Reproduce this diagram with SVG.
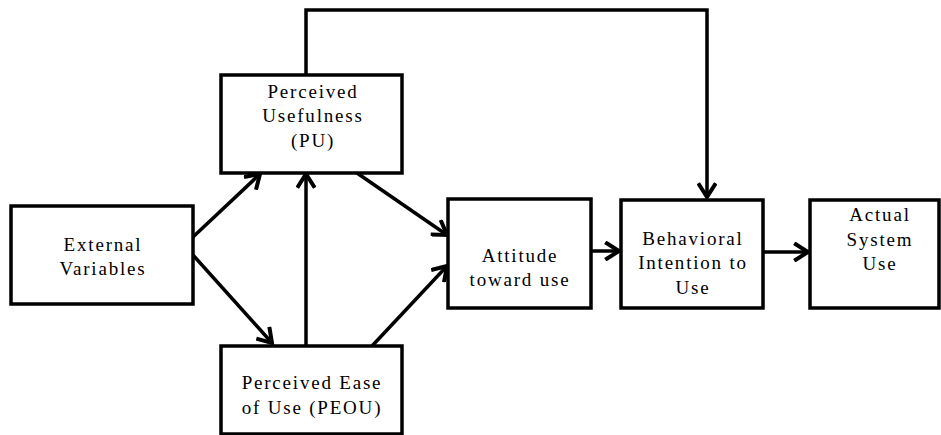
<svg xmlns="http://www.w3.org/2000/svg" width="941" height="435" viewBox="0 0 941 435">
<style>
.box{fill:#fff;stroke:#000;stroke-width:3.5}
.lbl{font-size:19px;letter-spacing:1.8px;fill:#000;text-anchor:middle}
.con{fill:none;stroke:#000;stroke-width:3.5}
</style>
<defs>
<marker id="arr" markerUnits="userSpaceOnUse" markerWidth="20" markerHeight="20" viewBox="0 0 14 16" refX="12" refY="8" orient="auto">
<path d="M1,1 L12,8 L1,15" fill="none" stroke="#000" stroke-width="3.2" stroke-linejoin="miter"/>
</marker>
</defs>
<g id="connectors">
<polyline class="con" points="306,75 306,10 707,10 707,197" marker-end="url(#arr)"/>
<line class="con" x1="193" y1="237" x2="260" y2="174" marker-end="url(#arr)"/>
<line class="con" x1="193" y1="255" x2="272" y2="343" marker-end="url(#arr)"/>
<line class="con" x1="306" y1="346" x2="306" y2="174" marker-end="url(#arr)"/>
<line class="con" x1="357" y1="173" x2="447" y2="235" marker-end="url(#arr)"/>
<line class="con" x1="372" y1="346" x2="447" y2="266" marker-end="url(#arr)"/>
<line class="con" x1="591" y1="251" x2="619" y2="251" marker-end="url(#arr)"/>
<line class="con" x1="763" y1="252" x2="808" y2="252" marker-end="url(#arr)"/>
</g>
<g font-family="'Liberation Serif', 'DejaVu Serif', 'Times New Roman', serif">
<g id="external">
<rect class="box" x="11" y="206" width="182" height="98"/>
<text class="lbl" x="103" y="251">External</text>
<text class="lbl" x="103" y="275">Variables</text>
</g>
<g id="pu">
<rect class="box" x="221" y="75" width="181" height="98"/>
<text class="lbl" x="313" y="98">Perceived</text>
<text class="lbl" x="313" y="122">Usefulness</text>
<text class="lbl" x="313" y="147">(PU)</text>
</g>
<g id="peou">
<rect class="box" x="221" y="346" width="181" height="88"/>
<text class="lbl" x="312" y="389">Perceived Ease</text>
<text class="lbl" x="312" y="414">of Use (PEOU)</text>
</g>
<g id="attitude">
<rect class="box" x="448" y="199" width="143" height="109"/>
<text class="lbl" x="520" y="262">Attitude</text>
<text class="lbl" x="520" y="286">toward use</text>
</g>
<g id="bi">
<rect class="box" x="621" y="200" width="142" height="108"/>
<text class="lbl" x="693" y="245">Behavioral</text>
<text class="lbl" x="693" y="269">Intention to</text>
<text class="lbl" x="693" y="294">Use</text>
</g>
<g id="actual">
<rect class="box" x="810" y="200" width="129" height="108"/>
<text class="lbl" x="880" y="221">Actual</text>
<text class="lbl" x="880" y="246">System</text>
<text class="lbl" x="880" y="270">Use</text>
</g>
</g>
</svg>
